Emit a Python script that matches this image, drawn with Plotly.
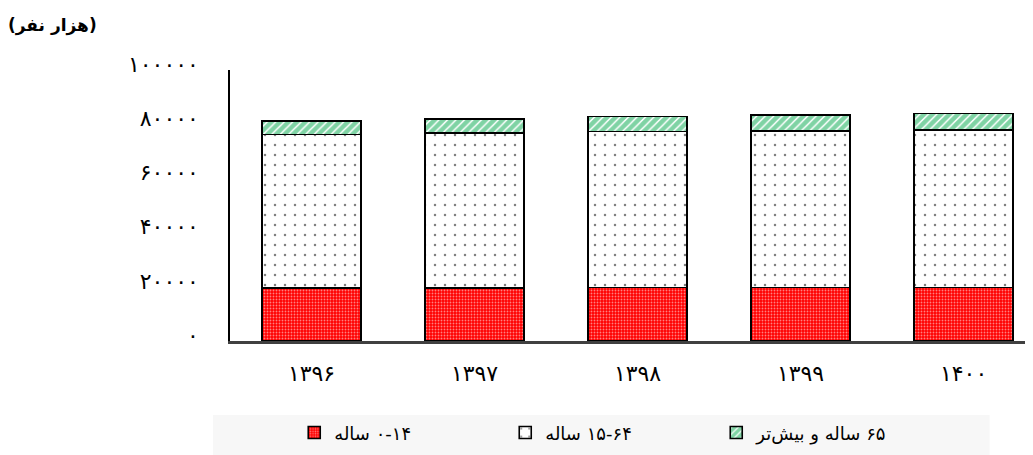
import plotly.graph_objects as go

years = ["۱۳۹۶", "۱۳۹۷", "۱۳۹۸", "۱۳۹۹", "۱۴۰۰"]
age_0_14 = [19450, 19650, 19700, 19800, 19800]
age_15_64 = [56800, 57100, 57550, 57800, 58150]
age_65_plus = [4900, 5250, 5550, 5800, 6050]
series_names = ["۰-۱۴ ساله", "۱۵-۶۴ ساله", "۶۵ ساله و بیش‌تر"]
y_tick_vals = [0, 20000, 40000, 60000, 80000, 100000]
y_tick_text = ["۰", "۲۰۰۰۰", "۴۰۰۰۰", "۶۰۰۰۰", "۸۰۰۰۰", "۱۰۰۰۰۰"]
unit_title = "(هزار نفر)"

RLE, PDF = "\u202b", "\u202c"
FONT = "DejaVu Sans"

fig = go.Figure()
styles = [
    dict(shape=".", fgcolor="white", bgcolor="#ff0000", size=3, solidity=0.3),
    dict(shape=".", fgcolor="black", bgcolor="white", size=10, solidity=0.05),
    dict(shape="/", fgcolor="#00a84a", bgcolor="white", size=6, solidity=0.75),
]
for name, vals, pat in zip(series_names, [age_0_14, age_15_64, age_65_plus], styles):
    fig.add_trace(go.Bar(
        x=years, y=vals, name=RLE + name + PDF, width=0.61,
        marker=dict(color=pat["bgcolor"], pattern=pat,
                    line=dict(color="black", width=1.6)),
        hoverinfo="skip",
    ))

fig.add_shape(type="rect", xref="paper", yref="paper",
              x0=-0.0212, x1=0.946, y0=-0.273, y1=-0.46,
              fillcolor="#f7f7f7", line=dict(width=0), layer="below")

fig.add_annotation(text="<b>" + unit_title + "</b>", xref="paper", yref="paper",
                   x=-0.279, y=1.165, xanchor="left", yanchor="middle",
                   showarrow=False, font=dict(family=FONT, size=17, color="black"))

fig.update_layout(
    width=1025, height=447, autosize=False,
    margin=dict(l=222, r=0, t=62, b=114, autoexpand=False),
    barmode="stack", bargap=0.39,
    plot_bgcolor="white", paper_bgcolor="white",
    font=dict(family=FONT, color="black"),
    showlegend=True,
    legend=dict(orientation="h", x=0.08, xanchor="left", y=-0.339, yanchor="middle",
                traceorder="normal", entrywidth=166, entrywidthmode="pixels",
                bgcolor="rgba(0,0,0,0)", font=dict(family=FONT, size=18, color="black")),
    xaxis=dict(type="category", range=[-0.5, 4.426], showline=True,
               linecolor="#404040", linewidth=3, ticks="", showgrid=False,
               tickfont=dict(family=FONT, size=22), ticklabelstandoff=11),
    yaxis=dict(range=[0, 100000], showline=True, linecolor="black", linewidth=1.5,
               ticks="", showgrid=False, zeroline=False,
               tickvals=y_tick_vals, ticktext=y_tick_text,
               tickfont=dict(family=FONT, size=22), ticklabelstandoff=25,
               ticklabelshift=-6),
)

fig.write_html("out.html")
